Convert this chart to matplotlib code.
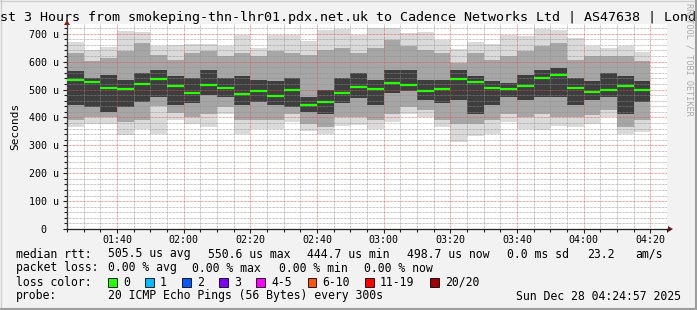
import numpy as np
import pandas as pd
import matplotlib
matplotlib.use("Agg")
import matplotlib.pyplot as plt
from matplotlib.ticker import MultipleLocator, FuncFormatter
from matplotlib.patches import Rectangle, Polygon

# 5-minute bins, 01:25 .. 04:15 (start of each bin)
bin_start = pd.date_range("2025-12-28 01:25", "2025-12-28 04:15", freq="5min")
bin_min = bin_start.hour * 60 + bin_start.minute

# median rtt per bin (microseconds)
median = [534.8, 527.6, 506.1, 502.5, 520.5, 538.4, 513.3, 489.2, 516.9, 506.1,
          484.6, 495.3, 477.4, 499.6, 444.7, 456.6, 488.2, 509.7, 502.5, 524.0,
          516.9, 495.3, 502.5, 538.4, 527.6, 506.1, 502.5, 513.3, 542.0, 550.6,
          506.1, 491.7, 499.6, 513.3, 498.7]

# smoke: outer range of the 20 pings
smoke_hi = [672, 640, 653, 709, 705, 655, 661, 665, 665, 655, 697, 649, 697, 694, 673, 713, 718, 697,
            721, 721, 703, 705, 677, 646, 669, 665, 697, 691, 718, 715, 685, 657, 649, 655, 636]
smoke_lo = [366, 376, 376, 336, 357, 342, 390, 376, 366, 414, 342, 357, 360, 384, 352, 342, 369, 372,
            360, 384, 414, 402, 364, 312, 333, 340, 384, 357, 354, 369, 366, 378, 402, 342, 348]
# middle pings
mid_hi = [632, 601, 613, 637, 667, 625, 607, 632, 637, 619, 631, 619, 637, 631, 625, 643, 649, 631,
          649, 679, 655, 643, 631, 595, 631, 607, 619, 637, 655, 667, 607, 619, 619, 619, 601]
mid_lo = [390, 402, 402, 384, 390, 440, 415, 402, 414, 438, 390, 390, 390, 414, 378, 366, 402, 402,
          390, 414, 438, 426, 390, 378, 378, 390, 414, 402, 414, 402, 402, 408, 426, 366, 390]
# inner pings around the median
core_hi = [565, 541, 553, 535, 559, 571, 547, 541, 571, 541, 547, 535, 529, 541, 474, 499, 541, 559,
           535, 571, 571, 535, 535, 571, 547, 529, 523, 553, 571, 577, 541, 529, 559, 547, 529]
core_lo = [444, 436, 420, 438, 456, 474, 444, 452, 481, 474, 444, 456, 444, 438, 420, 414, 452, 468,
           444, 487, 493, 462, 452, 462, 414, 444, 474, 462, 474, 474, 444, 462, 474, 414, 456]

loss_labels = ["0", "1", "2", "3", "4-5", "6-10", "11-19", "20/20"]
loss_colors = ["#26ff00", "#00b8ff", "#0059ff", "#7e00ff", "#ff00ff", "#ff5500", "#ff0000", "#a10000"]

W, H = 697, 310
mono = "DejaVu Sans Mono"
plt.rcParams["font.family"] = mono

fig = plt.figure(figsize=(W / 100, H / 100), dpi=100, facecolor="#f2f2f2")
ax = fig.add_axes([67 / W, (H - 229) / H, 600 / W, (229 - 24) / H])
ax.set_facecolor("white")

x = np.array(bin_min, dtype=float)
for lo, hi, col in [(smoke_lo, smoke_hi, "#dadada"),
                    (mid_lo, mid_hi, "#a6a6a6"),
                    (core_lo, core_hi, "#3e3e3e")]:
    ax.bar(x, np.array(hi) - np.array(lo), bottom=lo, width=5, align="edge",
           color=col, linewidth=0, zorder=1)
ax.hlines(median, x, x + 5, color=loss_colors[0], lw=1.6, zorder=4)

ax.set_xlim(85, 265)
ax.set_ylim(0, 735)
ax.xaxis.set_major_locator(MultipleLocator(20))
ax.xaxis.set_minor_locator(MultipleLocator(5))
ax.yaxis.set_major_locator(MultipleLocator(100))
ax.yaxis.set_minor_locator(MultipleLocator(20))
ax.xaxis.set_major_formatter(FuncFormatter(lambda v, p: f"{int(v) // 60:02d}:{int(v) % 60:02d}"))
ax.yaxis.set_major_formatter(FuncFormatter(lambda v, p: "0  " if v == 0 else f"{v:.0f} u"))

ax.set_axisbelow(False)
ax.grid(which="minor", color=(0.56, 0.56, 0.56, 0.6), ls=(0, (1, 1)), lw=0.5)
ax.grid(which="major", color=(0.87, 0.31, 0.31, 0.6), ls=(0, (1, 1)), lw=0.5)
ax.tick_params(which="both", labelsize=7.2, color=(0.12, 0.12, 0.12), width=0.8)
ax.tick_params(which="major", length=3)
ax.tick_params(axis="x", which="major", pad=1.5)
ax.tick_params(axis="y", which="major", pad=3)
ax.tick_params(which="minor", length=2)
for s in ["top", "right"]:
    ax.spines[s].set_visible(False)
for s in ["left", "bottom"]:
    ax.spines[s].set_color((0.12, 0.12, 0.12))
    ax.spines[s].set_linewidth(0.9)
ax.set_ylabel("Seconds", fontsize=8, labelpad=6)

# overlay in pixel coordinates for title, legend, frame
ov = fig.add_axes([0, 0, 1, 1], facecolor="none")
ov.set_xlim(0, W)
ov.set_ylim(H, 0)
ov.axis("off")

arrow = (0.50, 0.12, 0.12)
ov.plot([667, 670], [229, 229], color=(0.12, 0.12, 0.12), lw=0.9)
ov.add_patch(Polygon([[668, 226], [673, 229], [668, 232]], closed=True, color=arrow, lw=0))
ov.add_patch(Polygon([[64, 25], [67, 20], [70, 25]], closed=True, color=arrow, lw=0))

ov.text(W / 2, 21, "Last 3 Hours from smokeping-thn-lhr01.pdx.net.uk to Cadence Networks Ltd | AS47638 | London",
        ha="center", va="baseline", fontsize=9.6)
ov.text(689, 59, "RRDTOOL / TOBI OETIKER", rotation=270, ha="center", va="center",
        fontsize=6.1, color="#ababab")

fs = 8.3
rows = [254, 268, 282, 296]
ov.text(16, rows[0], "median rtt:", va="center", fontsize=fs)
for xp, s in [(107.5, "505.5 us avg"), (207.5, "550.6 us max"), (306.7, "444.7 us min"),
              (406.7, "498.7 us now"), (506.7, "0.0 ms sd"), (587, "23.2"), (635.5, "am/s")]:
    ov.text(xp, rows[0], s, va="center", fontsize=fs)
ov.text(16, rows[1], "packet loss:", va="center", fontsize=fs)
for xp, s in [(107.5, "0.00 % avg"), (192, "0.00 % max"), (279, "0.00 % min"), (364, "0.00 % now")]:
    ov.text(xp, rows[1], s, va="center", fontsize=fs)
ov.text(16, rows[2], "loss color:", va="center", fontsize=fs)
box_x = [108, 145, 182, 219, 256, 307.5, 365, 430]
for bx, lab, col in zip(box_x, loss_labels, loss_colors):
    ov.add_patch(Rectangle((bx, rows[2] - 4.5), 8.5, 9, facecolor=col, edgecolor="black", lw=0.6))
    ov.text(bx + 15, rows[2], lab, va="center", fontsize=fs)
ov.text(16, rows[3], "probe:", va="center", fontsize=fs)
ov.text(107.5, rows[3], "20 ICMP Echo Pings (56 Bytes) every 300s", va="center", fontsize=fs)
ov.text(681, rows[3], "Sun Dec 28 04:24:57 2025", ha="right", va="center", fontsize=fs)

# 3d frame
ov.plot([0, W], [0.5, 0.5], color="#cfcfcf", lw=1)
ov.plot([0.5, 0.5], [0, H], color="#cfcfcf", lw=1)
ov.plot([0, W], [H - 1, H - 1], color="#9e9e9e", lw=1.5)
ov.plot([W - 1, W - 1], [0, H], color="#9e9e9e", lw=1.5)

fig.savefig("out.png", dpi=100, facecolor=fig.get_facecolor())
